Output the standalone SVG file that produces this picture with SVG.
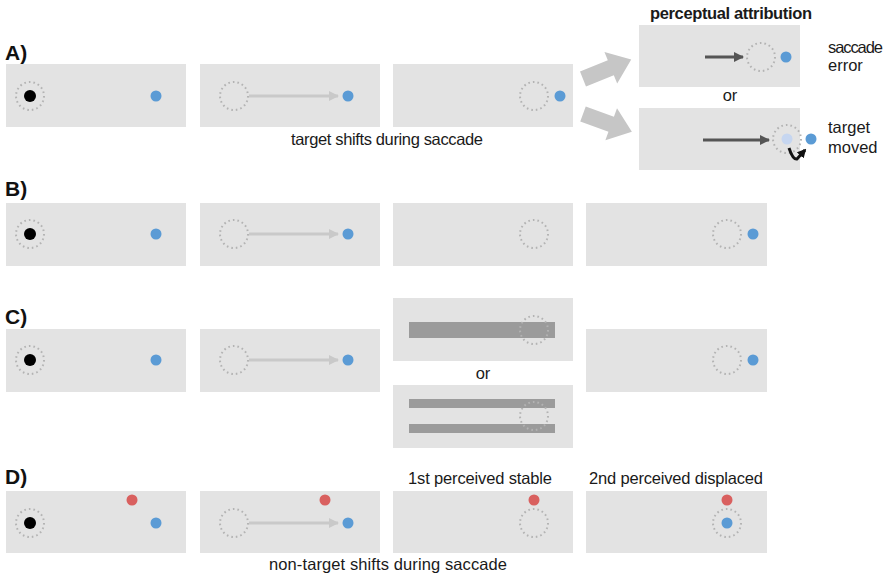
<svg xmlns="http://www.w3.org/2000/svg" width="890" height="576" viewBox="0 0 890 576">
<defs>
<style>
.p{fill:#e3e3e3}
.dc{fill:none;stroke:#b3b3b3;stroke-width:2;stroke-dasharray:1.6 3}
.bl{fill:#5b9bd5}
.rd{fill:#d9605f}
.bk{fill:#000}
.t{font-family:"Liberation Sans",Arial,sans-serif;font-size:16.5px;fill:#1a1a1a}
.lb{font-family:"Liberation Sans",Arial,sans-serif;font-size:21px;font-weight:bold;fill:#111}
.sac{stroke:#c9c9c9;stroke-width:3;fill:none}
.bar{fill:#9b9b9b}
.big{fill:#c6c6c6}
</style>
<marker id="ah" viewBox="0 0 10 10" refX="9" refY="5" markerWidth="3.4" markerHeight="3.4" orient="auto" markerUnits="strokeWidth"><path d="M0,0 L10,5 L0,10 z" fill="#c9c9c9"/></marker>
<marker id="ad" viewBox="0 0 10 10" refX="9" refY="5" markerWidth="3.4" markerHeight="3.4" orient="auto" markerUnits="strokeWidth"><path d="M0,0 L10,5 L0,10 z" fill="#555"/></marker>
<marker id="ak" viewBox="0 0 10 10" refX="8" refY="5" markerWidth="3" markerHeight="3" orient="auto" markerUnits="strokeWidth"><path d="M0,0 L10,5 L0,10 z" fill="#111"/></marker>
</defs>
<rect width="890" height="576" fill="#fff"/>

<!-- Row labels and texts -->
<text class="lb" x="5" y="60">A)</text>
<text class="lb" x="5" y="196">B)</text>
<text class="lb" x="5" y="324">C)</text>
<text class="lb" x="5" y="484">D)</text>
<text class="t" x="650" y="19" font-weight="bold" font-size="16px" textLength="162">perceptual attribution</text>
<text class="t" x="828" y="53" textLength="55">saccade</text>
<text class="t" x="828" y="71">error</text>
<text class="t" x="730" y="101" text-anchor="middle">or</text>
<text class="t" x="828" y="133">target</text>
<text class="t" x="828" y="153">moved</text>
<text class="t" x="291" y="145" textLength="192">target shifts during saccade</text>
<text class="t" x="483" y="379" text-anchor="middle">or</text>
<text class="t" x="408" y="484" textLength="144">1st perceived stable</text>
<text class="t" x="589" y="484" textLength="174">2nd perceived displaced</text>
<text class="t" x="269" y="570" textLength="238">non-target shifts during saccade</text>

<!-- Row A -->
<g id="A1"><rect class="p" x="6" y="64" width="180" height="63"/><circle class="dc" cx="30" cy="96" r="14"/><circle class="bk" cx="30" cy="96" r="6"/><circle class="bl" cx="156" cy="96" r="5.5"/></g>
<g id="A2"><rect class="p" x="200" y="64" width="180" height="63"/><circle class="dc" cx="234" cy="96" r="14"/><circle class="bl" cx="348" cy="96" r="5.5"/></g>
<g id="A3"><rect class="p" x="393" y="64" width="180" height="63"/><circle class="dc" cx="534" cy="96" r="14"/><circle class="bl" cx="560" cy="96" r="5.5"/></g>
<g id="R1"><rect class="p" x="639" y="25" width="161" height="62"/><circle class="dc" cx="761" cy="57" r="14"/><circle class="bl" cx="786" cy="57" r="5.5"/></g>
<g id="R2"><rect class="p" x="639" y="108" width="161" height="62"/><circle class="dc" cx="787" cy="139" r="14"/><circle cx="787" cy="139" r="5.5" fill="#c6d6f0"/><circle class="bl" cx="811" cy="139" r="5.5"/></g>

<!-- Row B -->
<g id="B1"><rect class="p" x="6" y="203" width="180" height="63"/><circle class="dc" cx="30" cy="234" r="14"/><circle class="bk" cx="30" cy="234" r="6"/><circle class="bl" cx="156" cy="234" r="5.5"/></g>
<g id="B2"><rect class="p" x="200" y="203" width="180" height="63"/><circle class="dc" cx="234" cy="234" r="14"/><circle class="bl" cx="348" cy="234" r="5.5"/></g>
<g id="B3"><rect class="p" x="393" y="203" width="180" height="63"/><circle class="dc" cx="534" cy="234" r="14"/></g>
<g id="B4"><rect class="p" x="586" y="203" width="181" height="63"/><circle class="dc" cx="727" cy="234" r="14"/><circle class="bl" cx="753" cy="234" r="5.5"/></g>

<!-- Row C -->
<g id="C1"><rect class="p" x="6" y="329" width="180" height="63"/><circle class="dc" cx="30" cy="360" r="14"/><circle class="bk" cx="30" cy="360" r="6"/><circle class="bl" cx="156" cy="360" r="5.5"/></g>
<g id="C2"><rect class="p" x="200" y="329" width="180" height="63"/><circle class="dc" cx="234" cy="360" r="14"/><circle class="bl" cx="348" cy="360" r="5.5"/></g>
<g id="C3a"><rect class="p" x="393" y="298" width="180" height="63"/><rect class="bar" x="409" y="322" width="146" height="16"/><circle class="dc" cx="534" cy="330" r="14" stroke="#c4c4c4"/></g>
<g id="C3b"><rect class="p" x="393" y="385" width="180" height="63"/><rect class="bar" x="409" y="399" width="146" height="9"/><rect class="bar" x="409" y="424" width="146" height="9"/><circle class="dc" cx="534" cy="416" r="14" stroke="#c4c4c4"/></g>
<g id="C4"><rect class="p" x="586" y="329" width="181" height="63"/><circle class="dc" cx="727" cy="360" r="14"/><circle class="bl" cx="753" cy="360" r="5.5"/></g>

<!-- Row D -->
<g id="D1"><rect class="p" x="6" y="491" width="180" height="62"/><circle class="dc" cx="30" cy="523" r="14"/><circle class="bk" cx="30" cy="523" r="6"/><circle class="rd" cx="132" cy="500" r="5.5"/><circle class="bl" cx="156" cy="523" r="5.5"/></g>
<g id="D2"><rect class="p" x="200" y="491" width="180" height="62"/><circle class="dc" cx="234" cy="523" r="14"/><circle class="rd" cx="325" cy="500" r="5.5"/><circle class="bl" cx="348" cy="523" r="5.5"/></g>
<g id="D3"><rect class="p" x="393" y="491" width="180" height="62"/><circle class="dc" cx="534" cy="523" r="14"/><circle class="rd" cx="534" cy="500" r="5.5"/></g>
<g id="D4"><rect class="p" x="586" y="491" width="181" height="62"/><circle class="dc" cx="727" cy="523" r="14"/><circle class="bl" cx="727" cy="523" r="5.5"/><circle class="rd" cx="727" cy="500" r="5.5"/></g>

<!-- Connectors -->
<g id="connectors">
<line class="sac" x1="249" y1="96" x2="338" y2="96" marker-end="url(#ah)"/>
<line class="sac" x1="249" y1="234" x2="338" y2="234" marker-end="url(#ah)"/>
<line class="sac" x1="249" y1="360" x2="338" y2="360" marker-end="url(#ah)"/>
<line class="sac" x1="249" y1="523" x2="338" y2="523" marker-end="url(#ah)"/>
<line x1="705" y1="57" x2="743" y2="57" stroke="#555" stroke-width="3" marker-end="url(#ad)"/>
<line x1="703" y1="140" x2="769" y2="140" stroke="#555" stroke-width="3" marker-end="url(#ad)"/>
<path d="M789,148 Q793,160 797,159 L805,150" fill="none" stroke="#111" stroke-width="3" marker-end="url(#ak)"/>
<polygon class="big" transform="translate(583,79) rotate(-22)" points="0,-8 30,-8 30,-17 52,0 30,17 30,8 0,8"/>
<polygon class="big" transform="translate(583,114) rotate(20)" points="0,-8 30,-8 30,-17 52,0 30,17 30,8 0,8"/>
</g>
</svg>
